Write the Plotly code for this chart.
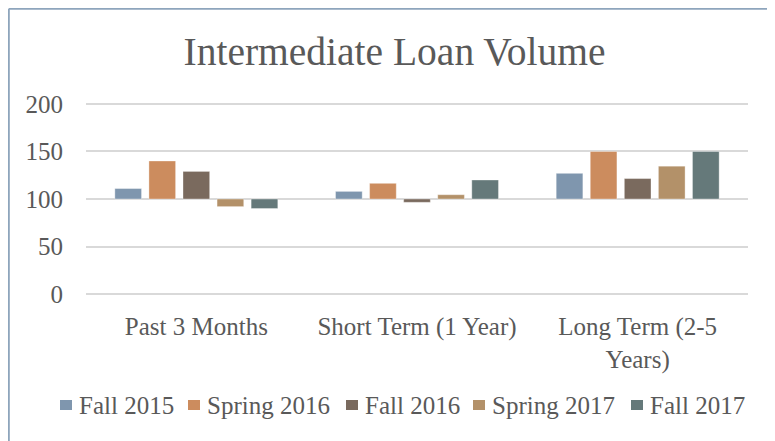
import plotly.graph_objects as go

categories = ["Past 3 Months", "Short Term (1 Year)", "Long Term (2-5<br>Years)"]
series_names = ["Fall 2015", "Spring 2016", "Fall 2016", "Spring 2017", "Fall 2017"]
fall_2015 = [111, 108, 127]
spring_2016 = [140, 116.5, 150]
fall_2016 = [129, 96.5, 121.5]
spring_2017 = [92, 104.5, 134.5]
fall_2017 = [90, 120, 150]
baseline = 100
y_ticks = [0, 50, 100, 150, 200]

series_values = [fall_2015, spring_2016, fall_2016, spring_2017, fall_2017]
colors = ["#7F96AE", "#CC8C5E", "#7A6A5E", "#B39169", "#65797A"]

# page body has an 8px margin; layout is expressed in figure pixels
W, H = 775, 441
ML, MR, MT, MB = 78, 35, 94, 153
FONT = "Liberation Serif"
TXT = "#595959"

fig = go.Figure()
for name, vals, col in zip(series_names, series_values, colors):
    fig.add_trace(go.Bar(
        name=name, x=categories, y=[v - baseline for v in vals], base=baseline,
        marker=dict(color=col, line=dict(color="rgba(255,255,255,0.35)", width=1)),
        customdata=vals, hovertemplate="%{x}: %{customdata}<extra>" + name + "</extra>",
        showlegend=False,
    ))

pw = W - ML - MR
ph = H - MT - MB
def px_x(x):
    return (x - ML) / pw
def px_y(y):
    return (H - MB - y) / ph

border = "#8EA5BC"
shapes = [
    dict(type="line", xref="paper", yref="paper", x0=px_x(0.8), x1=px_x(W + 2),
         y0=px_y(0.8), y1=px_y(0.8), line=dict(color=border, width=2)),
    dict(type="line", xref="paper", yref="paper", x0=px_x(0.8), x1=px_x(0.8),
         y0=px_y(0.8), y1=px_y(H + 2), line=dict(color=border, width=2)),
]

# custom legend (compact Excel-style spacing)
legend_text_x = [69, 197, 355, 482, 640]
legend_y = 397
annotations = []
for name, col, tx in zip(series_names, colors, legend_text_x):
    shapes.append(dict(type="rect", xref="paper", yref="paper",
                       x0=px_x(tx - 17), x1=px_x(tx - 5),
                       y0=px_y(legend_y - 5), y1=px_y(legend_y + 5),
                       fillcolor=col, line=dict(width=0)))
    annotations.append(dict(text=name, xref="paper", yref="paper", x=px_x(tx), y=px_y(legend_y),
                            xanchor="left", yanchor="middle", showarrow=False,
                            font=dict(family=FONT, size=25, color=TXT)))

fig.update_layout(
    width=W, height=H,
    margin=dict(l=ML, r=MR, t=MT, b=MB),
    paper_bgcolor="white", plot_bgcolor="white",
    font=dict(family=FONT, color=TXT, size=25),
    title=dict(text="Intermediate Loan Volume", x=386.5 / W, xref="container",
               y=1 - 43 / H, yref="container", xanchor="center", yanchor="middle",
               font=dict(family=FONT, size=39.5, color=TXT)),
    barmode="group", bargap=0.228, bargroupgap=0.217,
    showlegend=False,
    shapes=shapes, annotations=annotations,
)
fig.update_xaxes(showgrid=False, showline=False, zeroline=False, ticks="",
                 tickfont=dict(family=FONT, size=25, color=TXT), ticklabelstandoff=13)
fig.update_yaxes(range=[-2, 202], tickvals=y_ticks, showgrid=True, gridcolor="#D9D9D9", gridwidth=1.5,
                 zeroline=False, showline=False, ticks="",
                 tickfont=dict(family=FONT, size=25, color=TXT), ticklabelstandoff=22)

fig.write_html("out.html")
